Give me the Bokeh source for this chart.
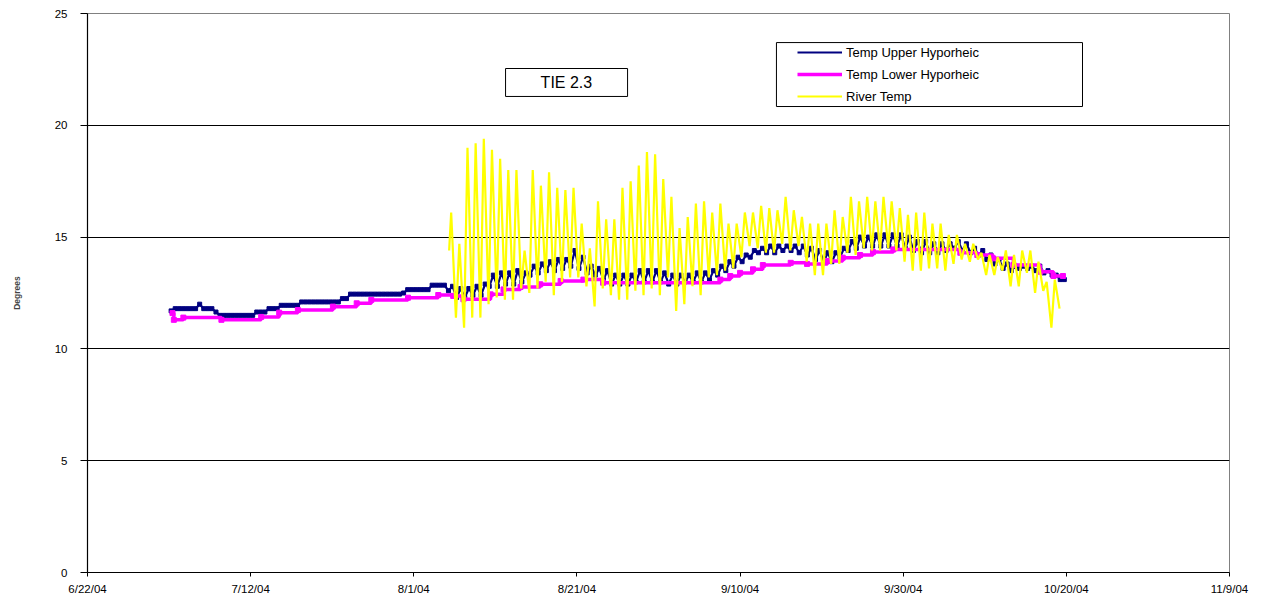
import pandas as pd
from bokeh.plotting import figure
from bokeh.models import FixedTicker, Legend, LegendItem, BoxAnnotation, Label, Range1d
from bokeh.embed import file_html
from bokeh.resources import INLINE

FONT = "Liberation Sans"

# ---------------- data ----------------
tick_dates = ["2004-06-22", "2004-07-12", "2004-08-01", "2004-08-21",
              "2004-09-10", "2004-09-30", "2004-10-20", "2004-11-09"]
tick_labels = ["6/22/04", "7/12/04", "8/1/04", "8/21/04",
               "9/10/04", "9/30/04", "10/20/04", "11/9/04"]
y_tick_values = [0, 5, 10, 15, 20, 25]

# Temp Upper Hyporheic: daily low / high, from 2004-07-02 to 2004-10-19
upper_first_day = "2004-07-02"
upper_low = [
    # Jul 2 - Jul 31
    11.7, 11.8, 11.8, 11.8, 11.8, 11.8, 11.5, 11.5, 11.5, 11.5,
    11.5, 11.65, 11.8, 11.8, 11.95, 11.95, 12.1, 12.1, 12.1, 12.1,
    12.1, 12.25, 12.45, 12.45, 12.45, 12.45, 12.45, 12.45, 12.45, 12.65,
    # Aug 1 - Aug 31
    12.65, 12.65, 12.85, 12.85, 12.6, 12.3, 12.3, 12.4, 12.4, 12.8,
    12.8, 12.9, 12.9, 13.0, 13.3, 13.4, 13.5, 13.5, 13.6, 13.7,
    13.6, 13.4, 13.3, 13.1, 12.9, 12.9, 12.9, 13.0, 13.0, 13.0, 13.0,
    # Sep 1 - Sep 30
    12.9, 12.9, 13.0, 13.0, 13.0, 13.1, 13.3, 13.5, 13.7, 13.9,
    14.1, 14.3, 14.3, 14.3, 14.4, 14.4, 14.3, 14.2, 14.0, 13.9,
    13.9, 14.1, 14.4, 14.5, 14.6, 14.6, 14.6, 14.6, 14.6, 14.5,
    # Oct 1 - Oct 19
    14.4, 14.3, 14.3, 14.3, 14.4, 14.5, 14.4, 14.3, 14.2, 14.0,
    13.8, 13.6, 13.5, 13.6, 13.6, 13.5, 13.4, 13.3, 13.1,
]
upper_high = [
    # Jul 2 - Jul 31
    11.8, 11.8, 11.8, 12.0, 11.8, 11.65, 11.5, 11.5, 11.5, 11.5,
    11.65, 11.65, 11.8, 11.95, 11.95, 11.95, 12.1, 12.1, 12.1, 12.1,
    12.1, 12.25, 12.45, 12.45, 12.45, 12.45, 12.45, 12.45, 12.5, 12.65,
    # Aug 1 - Aug 31
    12.65, 12.65, 12.85, 12.85, 12.8, 12.7, 12.7, 12.8, 12.9, 13.3,
    13.4, 13.4, 13.5, 13.4, 13.7, 13.8, 13.9, 14.0, 14.0, 14.4,
    14.1, 13.7, 13.6, 13.5, 13.3, 13.3, 13.3, 13.5, 13.5, 13.5, 13.4,
    # Sep 1 - Sep 30
    13.3, 13.3, 13.3, 13.4, 13.4, 13.5, 13.7, 13.9, 14.1, 14.2,
    14.4, 14.5, 14.6, 14.6, 14.6, 14.6, 14.6, 14.5, 14.4, 14.3,
    14.3, 14.5, 14.8, 15.0, 15.0, 15.1, 15.1, 15.1, 15.1, 15.0,
    # Oct 1 - Oct 19
    14.8, 14.8, 14.7, 14.7, 14.7, 14.8, 14.7, 14.5, 14.4, 14.2,
    14.0, 13.8, 13.7, 13.7, 13.7, 13.7, 13.5, 13.3, 13.1,
]

# Temp Lower Hyporheic: level changes (time, value)
lower_times = [
    "2004-07-02 10:00", "2004-07-02 14:00", "2004-07-03 18:00", "2004-07-08 10:00",
    "2004-07-13 07:00", "2004-07-15 12:00", "2004-07-17 19:00", "2004-07-22 02:00",
    "2004-07-25 00:00", "2004-07-26 19:00", "2004-07-31 07:00", "2004-08-04 00:00",
    "2004-08-05 20:00", "2004-08-07 02:00", "2004-08-10 10:00", "2004-08-12 00:00",
    "2004-08-14 02:00", "2004-08-16 12:00", "2004-08-19 00:00", "2004-08-21 19:00",
    "2004-08-24 05:00", "2004-09-07 14:00", "2004-09-08 19:00", "2004-09-10 00:00",
    "2004-09-11 14:00", "2004-09-12 19:00", "2004-09-16 05:00", "2004-09-18 05:00",
    "2004-09-20 17:00", "2004-09-22 14:00", "2004-09-24 17:00", "2004-09-26 07:00",
    "2004-09-28 19:00", "2004-10-07 00:00", "2004-10-09 02:00", "2004-10-11 00:00",
    "2004-10-13 12:00", "2004-10-16 19:00", "2004-10-18 10:00", "2004-10-19 14:00",
]
lower_values = [
    11.6, 11.3, 11.4, 11.3,
    11.43, 11.62, 11.74, 11.89,
    12.04, 12.19, 12.29, 12.41,
    12.37, 12.22, 12.44, 12.66,
    12.77, 12.89, 13.04, 13.1,
    12.96, 13.1, 13.26, 13.4,
    13.56, 13.75, 13.85, 13.8,
    13.93, 14.08, 14.2, 14.33,
    14.45, 14.3, 14.2, 14.05,
    13.75, 13.45, 13.26, 13.26,
]

# River Temp: first reading, then daily afternoon peak and next-morning trough
river_first_time = "2004-08-05 08:00"
river_first_value = 14.4
river_first_peak_day = "2004-08-05"
river_peak = [
    # Aug 5 - Aug 31
    16.1, 14.7, 19.0, 19.2, 19.4, 18.9, 18.5, 18.0, 18.0, 14.4,
    18.0, 17.3, 17.9, 17.2, 17.1, 17.2, 15.6, 14.5, 16.6, 15.8,
    15.8, 17.2, 17.5, 18.2, 18.8, 18.7, 17.6,
    # Sep 1 - Sep 30
    16.8, 15.4, 15.9, 16.5, 16.6, 16.1, 16.5, 15.6, 15.6, 16.1,
    16.1, 16.4, 16.3, 16.2, 16.8, 16.2, 15.9, 15.6, 15.6, 15.6,
    16.2, 15.9, 16.8, 16.6, 16.8, 16.6, 16.8, 16.6, 16.3, 16.0,
    # Oct 1 - Oct 18
    16.1, 16.1, 15.6, 15.6, 15.1, 15.1, 14.7, 14.7, 14.3, 14.2,
    14.1, 14.4, 14.2, 14.4, 14.4, 13.9, 13.0, 13.1,
]
river_trough = [
    # Aug 6 - Aug 31
    11.4, 10.95, 11.4, 11.4, 12.0, 12.3, 12.2, 12.2, 12.7, 12.5,
    12.7, 13.0, 12.4, 13.0, 13.2, 13.2, 12.8, 11.9, 12.7, 12.4,
    12.2, 12.2, 12.6, 12.4, 12.7, 12.4,
    # Sep 1 - Sep 30
    13.2, 11.7, 12.0, 12.8, 12.4, 13.2, 13.3, 13.5, 13.6, 14.1,
    14.6, 14.5, 14.3, 14.3, 14.7, 14.4, 14.6, 13.9, 13.3, 13.3,
    13.8, 13.8, 14.3, 14.2, 14.5, 14.4, 14.4, 14.5, 14.4, 13.9,
    # Oct 1 - Oct 19
    13.5, 13.5, 13.6, 13.6, 13.5, 13.8, 14.0, 13.9, 14.0, 13.3,
    13.3, 13.5, 12.8, 12.8, 13.4, 12.5, 12.6, 10.95, 11.8,
]

series_names = ["Temp Upper Hyporheic", "Temp Lower Hyporheic", "River Temp"]
series_colors = ["#000080", "#FF00FF", "#FFFF00"]
chart_title = "TIE 2.3"
y_title = "Degrees"


def ms(s):
    return pd.Timestamp(s).value / 1e6


# ---------------- build series ----------------
ux, uy = [], []
for d, lo, hi in zip(pd.date_range(upper_first_day, periods=len(upper_low), freq="D"),
                     upper_low, upper_high):
    ux += [d + pd.Timedelta(hours=6), d + pd.Timedelta(hours=18)]
    uy += [lo, hi]

lx = [pd.Timestamp(t) for t in lower_times]
ly = list(lower_values)

rx, ry = [pd.Timestamp(river_first_time)], [river_first_value]
for d, hi, lo in zip(pd.date_range(river_first_peak_day, periods=len(river_peak), freq="D"),
                     river_peak, river_trough):
    rx += [d + pd.Timedelta(hours=14), d + pd.Timedelta(hours=28)]
    ry += [hi, lo]

# ---------------- figure ----------------
p = figure(width=1260, height=597, x_axis_type="datetime",
           output_backend="svg", toolbar_location=None,
           x_range=Range1d(ms(tick_dates[0]), ms(tick_dates[-1])),
           y_range=Range1d(0, 25),
           min_border_left=87, min_border_right=31, min_border_top=13, min_border_bottom=10)
p.background_fill_color = "white"
p.border_fill_color = "white"
p.outline_line_color = "#808080"
p.outline_line_width = 1

p.xgrid.visible = False
p.ygrid.ticker = FixedTicker(ticks=[v for v in y_tick_values if 0 < v < 25])
p.ygrid.grid_line_color = "black"
p.ygrid.grid_line_width = 1

p.yaxis.ticker = FixedTicker(ticks=y_tick_values)
p.yaxis.minor_tick_line_color = None
p.yaxis.major_tick_out = 7
p.yaxis.major_tick_in = 0
p.yaxis.major_label_standoff = 13
p.yaxis.axis_label = y_title
p.yaxis.axis_label_text_font = FONT
p.yaxis.axis_label_text_font_style = "bold"
p.yaxis.axis_label_text_font_size = "8.5px"
p.yaxis.axis_label_standoff = 30

p.xaxis.ticker = FixedTicker(ticks=[ms(d) for d in tick_dates])
p.xaxis.major_label_overrides = {ms(d): lab for d, lab in zip(tick_dates, tick_labels)}
p.xaxis.minor_tick_line_color = None
p.xaxis.major_tick_out = 4
p.xaxis.major_tick_in = 0
p.xaxis.major_label_standoff = 6

for ax in (p.xaxis, p.yaxis):
    ax.axis_line_color = "black"
    ax.axis_line_width = 1.2
    ax.major_tick_line_color = "black"
    ax.major_label_text_font = FONT
    ax.major_label_text_font_size = "11.5px"
    ax.major_label_text_color = "black"

r_up = p.line(ux, uy, line_color=series_colors[0], line_width=2.2)
p.scatter(ux, uy, marker="square", size=4, color=series_colors[0])
r_lo = p.step(lx, ly, mode="after", line_color=series_colors[1], line_width=3.5)
p.scatter(lx, ly, marker="square", size=5, color=series_colors[1])
r_rv = p.line(rx, ry, line_color=series_colors[2], line_width=2.2)

# legend frame and legend
p.add_layout(BoxAnnotation(left=ms("2004-09-14 11:00"), right=ms("2004-10-21 23:30"),
                           bottom=20.84, top=23.70,
                           fill_color="white", fill_alpha=1.0,
                           line_color="black", line_width=1, line_alpha=1.0))
legend = Legend(items=[LegendItem(label=series_names[0], renderers=[r_up]),
                       LegendItem(label=series_names[1], renderers=[r_lo]),
                       LegendItem(label=series_names[2], renderers=[r_rv])],
                location=(710, 467), orientation="vertical",
                padding=0, spacing=4, margin=0,
                glyph_width=45, glyph_height=18, label_height=18, label_standoff=4,
                label_text_font=FONT, label_text_font_size="13px", label_text_color="black",
                border_line_alpha=0, background_fill_alpha=0)
p.add_layout(legend)

# title box
p.add_layout(BoxAnnotation(left=ms("2004-08-12 06:00"), right=ms("2004-08-27 05:00"),
                           bottom=21.29, top=22.54,
                           fill_color="white", fill_alpha=1.0,
                           line_color="black", line_width=1, line_alpha=1.0))
p.add_layout(Label(x=ms("2004-08-19 17:00"), y=21.91, text=chart_title,
                   text_align="center", text_baseline="middle",
                   text_font=FONT, text_font_size="16px", text_color="black"))

open("out.html", "w").write(file_html(p, INLINE))
